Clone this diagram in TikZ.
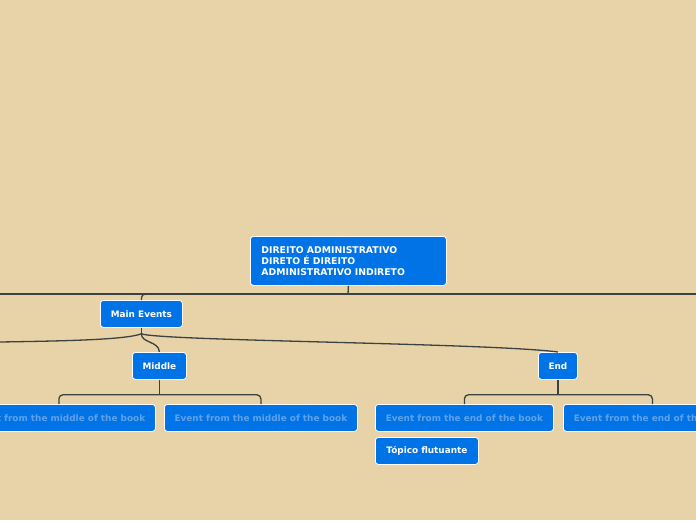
\documentclass[tikz,border=0pt]{standalone}
\usepackage{fontspec}
\setmainfont{DejaVu Sans}

\definecolor{paper}{HTML}{E8D3A8}
\definecolor{topicblue}{HTML}{0073E6}
\definecolor{fadedtext}{HTML}{5FA2EA}
\definecolor{linkgray}{HTML}{3B4242}

\begin{document}
\begin{tikzpicture}[
  x=1pt, y=-1pt,
  topic/.style={fill=topicblue, draw=white, line width=0.8pt, rounded corners=3pt,
    font=\fontsize{8.9}{11}\selectfont\bfseries, text=white,
    minimum height=27, inner xsep=0pt, anchor=north west},
  subtopic/.style={topic, text=fadedtext},
  link/.style={draw=linkgray, line width=1.3pt},
]

% Canvas
\def\cw{696}     % canvas width
\def\ch{520}     % canvas height
\def\rowy{404}   % top of the event row

\fill[paper] (0,0) rectangle (\cw,\ch);
\useasboundingbox (0,0) rectangle (\cw,\ch);
\clip (0,0) rectangle (\cw,\ch);

% ============================================================
% CENTRAL TOPIC
% ============================================================
\node[topic, minimum width=196, minimum height=49, inner xsep=11pt,
      text width=174, align=left, font=\fontsize{9.3}{11}\selectfont\bfseries]
  (root) at (250,236)
  {DIREITO ADMINISTRATIVO\\DIRETO É DIREITO\\ADMINISTRATIVO INDIRETO};

% ============================================================
% MAIN TOPICS
% ============================================================
\node[topic, minimum width=82] (mainev) at (100,300) {Main Events};
\node[topic, minimum width=54] (middle) at (132,352) {Middle};
\node[topic, minimum width=39] (endev)  at (538,352) {End};

% ============================================================
% EVENTS
% ============================================================
\node[subtopic, minimum width=193] (midev1) at (-38,\rowy) {Event from the middle of the book};
\node[subtopic, minimum width=193] (midev2) at (164,\rowy) {Event from the middle of the book};
\node[subtopic, minimum width=178] (endev1) at (375,\rowy) {Event from the end of the book};
\node[subtopic, minimum width=178] (endev2) at (563,\rowy) {Event from the end of the book};

\node[topic, minimum width=103] (floating) at (375,437) {Tópico flutuante};

% ============================================================
% CONNECTORS
% ============================================================
\coordinate (hub)   at (348,294);
\coordinate (edgeL) at (0,294);
\coordinate (edgeR) at (\cw,294);
\coordinate (sideL) at (0,342);

\draw[link] (root.south) -- (hub);
\draw[link] (edgeL) -- (edgeR);
\draw[link, rounded corners=4pt] (hub) -| (mainev.north);

\draw[link] (mainev.south) -- ++(0,6) coordinate (mainfork);
\draw[link] (mainfork) .. controls (141,343) and (159,341) .. (middle.north);
\draw[link] (mainfork) .. controls (160,341) and (490,343) .. (endev.north);
\draw[link] (mainfork) .. controls (125,340) and (60,341) .. (sideL);

\draw[link] (middle.south) -- ++(0,15) coordinate (midfork);
\draw[link, rounded corners=4pt] (midfork) -| (midev1.north);
\draw[link, rounded corners=4pt] (midfork) -| (midev2.north);

\draw[link] (endev.south) -- ++(0,15) coordinate (endfork);
\draw[link, rounded corners=4pt] (endfork) -| (endev1.north);
\draw[link, rounded corners=4pt] (endfork) -| (endev2.north);

\end{tikzpicture}
\end{document}
